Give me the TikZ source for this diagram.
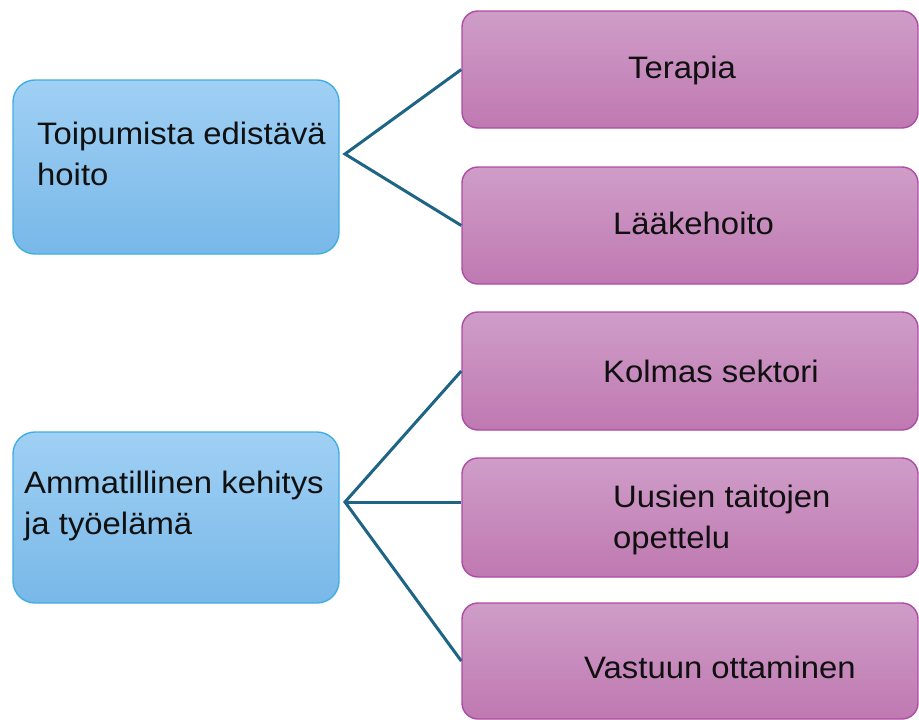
\documentclass[tikz,border=0pt]{standalone}
\usepackage{fontspec}
\setmainfont[FakeStretch=1.06]{Liberation Sans}
\definecolor{bluetop}{HTML}{A0D0F4}
\definecolor{bluebot}{HTML}{78B8E8}
\definecolor{blueline}{HTML}{41AEE0}
\definecolor{purptop}{HTML}{CF9DC8}
\definecolor{purpbot}{HTML}{BF79B1}
\definecolor{purpline}{HTML}{AE4BA6}
\definecolor{linkcol}{HTML}{1E6585}
\definecolor{txtcol}{HTML}{101010}
\begin{document}
\begin{tikzpicture}[x=1pt,y=-1pt,
  bluebox/.style={draw=blueline, line width=1.4pt, top color=bluetop, bottom color=bluebot,
    rounded corners=22pt, minimum width=326pt, inner sep=0pt},
  purpbox/.style={draw=purpline, line width=1.4pt, top color=purptop, bottom color=purpbot,
    rounded corners=16pt, minimum width=456pt, inner sep=0pt},
  link/.style={draw=linkcol, line width=3pt},
  lbl/.style={inner sep=0pt, anchor=base west, text=txtcol, font=\fontsize{31}{41}\selectfont}
]
\useasboundingbox (0,0) rectangle (919,720);

\node[bluebox, minimum height=174pt] (b1) at (176,167) {};
\node[bluebox, minimum height=171pt] (b2) at (176,517.5) {};

\node[purpbox, minimum height=117pt] (r1) at (690,69.5) {};
\node[purpbox, minimum height=117pt] (r2) at (690,225.5) {};
\node[purpbox, minimum height=118pt] (r3) at (690,371) {};
\node[purpbox, minimum height=119pt] (r4) at (690,517.5) {};
\node[purpbox, minimum height=116pt] (r5) at (690,661) {};

\coordinate (j1) at (345,154);
\coordinate (j2) at (345,502);
\draw[link] (r1.west) -- (j1) -- (r2.west);
\draw[link] (r3.west) -- (j2) -- (r5.west);
\draw[link] (j2) -- (r4.west |- j2);

\node[lbl] (t1) at (37,144) {\parbox[t]{300pt}{\raggedright Toipumista edistävä\\hoito}};
\node[lbl] (t2) at (24,493) {\parbox[t]{310pt}{\raggedright Ammatillinen kehitys\\ja työelämä}};
\node[lbl] (u1) at (628,78) {Terapia};
\node[lbl] (u2) at (613,234) {Lääkehoito};
\node[lbl] (u3) at (603,382) {Kolmas sektori};
\node[lbl] (u4) at (613,507) {\parbox[t]{300pt}{\raggedright Uusien taitojen\\opettelu}};
\node[lbl] (u5) at (584,678) {Vastuun ottaminen};
\end{tikzpicture}
\end{document}
